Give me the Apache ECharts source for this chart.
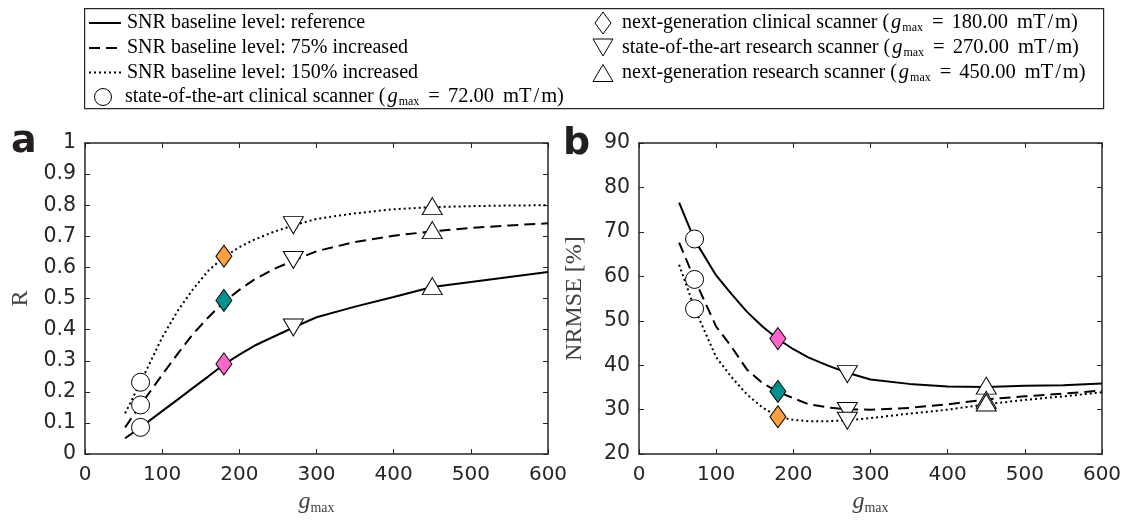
<!DOCTYPE html>
<html>
<head>
<meta charset="utf-8">
<script src="https://cdn.jsdelivr.net/npm/echarts@6/dist/echarts.min.js"></script>
<style>html,body{margin:0;padding:0;background:#fff}#c{width:1125px;height:520px}</style>
</head>
<body>
<div id="c"></div>
<script>
// ---- data ----
const gGrid = [52, 72, 100, 120, 140, 160, 180, 200, 220, 245, 270, 300, 350, 400, 450, 500, 550, 600];
// Panel a: correlation R
const rRef    = [0.051, 0.086, 0.138, 0.175, 0.213, 0.250, 0.288, 0.320, 0.349, 0.378, 0.407, 0.440, 0.474, 0.505, 0.537, 0.553, 0.569, 0.585];
const rInc75  = [0.086, 0.158, 0.255, 0.322, 0.386, 0.440, 0.489, 0.528, 0.562, 0.595, 0.622, 0.652, 0.682, 0.702, 0.716, 0.727, 0.735, 0.742];
const rInc150 = [0.131, 0.231, 0.375, 0.460, 0.530, 0.590, 0.633, 0.665, 0.690, 0.715, 0.735, 0.756, 0.774, 0.787, 0.794, 0.797, 0.799, 0.800];
// Panel b: NRMSE [%]
const eRef    = [76.6, 68.2, 60.2, 56.0, 52.0, 48.7, 45.9, 43.6, 41.7, 39.9, 38.3, 36.8, 35.8, 35.2, 35.1, 35.4, 35.5, 35.9];
const eInc75  = [67.6, 59.3, 48.7, 44.1, 39.0, 36.0, 34.0, 32.6, 31.2, 30.5, 30.1, 30.0, 30.4, 31.2, 32.3, 33.0, 33.6, 34.3];
const eInc150 = [62.6, 52.8, 41.8, 37.3, 33.4, 30.5, 28.4, 27.7, 27.4, 27.4, 27.6, 28.1, 29.1, 30.0, 31.2, 32.2, 33.0, 33.9];
// Scanners (g_max in mT/m)
const scannerG = [72, 180, 270, 450];
const scannerNames = [
  'state-of-the-art clinical scanner',
  'next-generation clinical scanner',
  'state-of-the-art research scanner',
  'next-generation research scanner'
];
const levelNames = ['SNR baseline level: reference', 'SNR baseline level: 75% increased', 'SNR baseline level: 150% increased'];
// marker values per scanner, ordered [reference, 75%, 150%]
const rCircle   = [0.086, 0.158, 0.231];
const rDiamond  = [0.290, 0.494, 0.636];
const rTriDown  = [0.407, 0.624, 0.736];
const rTriUp    = [0.540, 0.720, 0.797];
const eCircle   = [68.4, 59.3, 52.7];
const eDiamond  = [46.0, 34.1, 28.4];
const eTriDown  = [38.0, 29.7, 27.5];
const eTriUp    = [35.4, 32.2, 31.6];
const xTicks = [0, 100, 200, 300, 400, 500, 600];

// ---- styles ----
const diamondColors = ['#ff66cc', '#009090', '#ffa040'];
const dashTypes = ['solid', [11, 6], [2, 3]];
const AX = '#262626';
const SERIF = '"Liberation Serif", "Times New Roman", serif';
const SANS = '"DejaVu Sans", sans-serif';
const triDownPath = 'path://M0,0 L20,0 L10,17 Z';
const triUpPath = 'path://M10,0 L20,17 L0,17 Z';

const chart = echarts.init(document.getElementById('c'), null, {renderer: 'canvas'});

const grids = [
  {left: 85, top: 143, width: 463, height: 314},
  {left: 639, top: 143, width: 463, height: 314}
];

function xAx(gi, pos) {
  const main = pos === 'bottom';
  return {
    type: 'value', gridIndex: gi, position: pos, min: 0, max: 600, interval: 100,
    axisLine: {show: true, onZero: false, lineStyle: {color: AX, width: 1.5}},
    axisTick: {show: true, inside: true, length: 5, lineStyle: {color: AX, width: 1}},
    axisLabel: {show: main, color: AX, fontFamily: SANS, fontSize: 20, margin: 11,
      formatter: v => xTicks.includes(v) ? String(v) : ''},
    splitLine: {show: false},
    name: main ? '{g|g}{s|max}' : '', nameLocation: 'middle', nameGap: 34,
    nameTextStyle: {rich: {
      g: {fontFamily: SERIF, fontStyle: 'italic', fontSize: 24, color: '#404040', lineHeight: 26},
      s: {fontFamily: SERIF, fontSize: 14, color: '#404040', verticalAlign: 'bottom', lineHeight: 14, padding: [10, 0, 0, 0]}
    }}
  };
}
function yAx(gi, pos, min, max, interval, name, fmt) {
  const main = pos === 'left';
  return {
    type: 'value', gridIndex: gi, position: pos, min: min, max: max, interval: interval,
    axisLine: {show: true, onZero: false, lineStyle: {color: AX, width: 1.5}},
    axisTick: {show: true, inside: true, length: 5, lineStyle: {color: AX, width: 1}},
    axisLabel: {show: main, color: AX, fontFamily: SANS, fontSize: 20.5, margin: 9, formatter: fmt},
    splitLine: {show: false},
    name: main ? name : '', nameLocation: 'middle', nameGap: 52, nameRotate: 90,
    nameTextStyle: {fontFamily: SERIF, fontSize: 24, color: '#404040'}
  };
}
const fmtR = v => (Math.round(v * 10) / 10).toString();
const fmtE = v => String(Math.round(v));

function toPts(arr) { return gGrid.map((x, i) => [x, arr[i]]); }

const series = [];
[[rRef, rInc75, rInc150, 0], [eRef, eInc75, eInc150, 1]].forEach(([a, b, c, p]) => {
  [a, b, c].forEach((arr, k) => {
    series.push({
      type: 'line', name: levelNames[k], xAxisIndex: p, yAxisIndex: p,
      data: toPts(arr), symbol: 'none', smooth: false, z: 2,
      lineStyle: {color: '#000', width: 2, type: dashTypes[k]}
    });
  });
});
function markerSeries(p, vals, gi, symbol, size, colorFn) {
  return {
    type: 'scatter', name: scannerNames[gi], xAxisIndex: p, yAxisIndex: p, z: 5,
    symbol: symbol, symbolSize: size,
    data: vals.map((v, k) => ({value: [scannerG[gi], v], itemStyle: {color: colorFn(k), opacity: 1}})),
    itemStyle: {borderColor: '#000', borderWidth: 1, opacity: 1}
  };
}
const white = () => '#ffffff';
const dcol = k => diamondColors[k];
[[rCircle, rDiamond, rTriDown, rTriUp, 0], [eCircle, eDiamond, eTriDown, eTriUp, 1]].forEach(([c, d, td, tu, p]) => {
  series.push(markerSeries(p, c, 0, 'circle', 18, white));
  series.push(markerSeries(p, d, 1, 'diamond', [16, 22], dcol));
  series.push(markerSeries(p, td, 2, triDownPath, [20, 17], white));
  series.push(markerSeries(p, tu, 3, triUpPath, [20, 17], white));
});

// ---- legend drawn as graphics ----
const richG = {
  t: {fontFamily: SERIF, fontSize: 20, color: '#000', lineHeight: 22},
  p: {fontFamily: SERIF, fontSize: 20, color: '#000', lineHeight: 22, padding: [0, 2, 0, 0]},
  m: {fontFamily: SERIF, fontSize: 20.5, color: '#000', lineHeight: 22},
  e: {fontFamily: SERIF, fontSize: 20.5, color: '#000', lineHeight: 22, padding: [0, 8, 0, 8]},
  sl: {fontFamily: SERIF, fontSize: 20.5, color: '#000', lineHeight: 22, padding: [0, 2, 0, 2]},
  u: {fontFamily: SERIF, fontSize: 20.5, color: '#000', lineHeight: 22, padding: [0, 0, 0, 9]},
  g: {fontFamily: SERIF, fontSize: 20.5, fontStyle: 'italic', color: '#000', lineHeight: 22},
  s: {fontFamily: SERIF, fontSize: 12, color: '#000', verticalAlign: 'bottom', lineHeight: 12, padding: [9, 1, 0, 1]}
};
function scannerText(i) {
  return '{t|' + scannerNames[i] + ' }{p|(}{g|g}{s|max}{e|=}{m|' + scannerG[i].toFixed(2) +
    '}{u|mT}{sl|/}{m|m)}';
}
const rowsY = [23, 48, 72.5, 97];
const graphic = [
  {type: 'rect', left: 84, top: 8, shape: {x: 0, y: 0, width: 1019, height: 100}, style: {fill: '#fff', stroke: AX, lineWidth: 1.2}, z: 0}
];
[0, 1, 2].forEach(k => {
  graphic.push({type: 'line', shape: {x1: 89, y1: rowsY[k], x2: 121, y2: rowsY[k]},
    style: {stroke: '#000', lineWidth: 2, lineDash: k === 0 ? null : dashTypes[k]}, z: 1});
  graphic.push({type: 'text', x: 127, y: rowsY[k], style: {text: levelNames[k], font: '20px ' + SERIF, fill: '#000', verticalAlign: 'middle'}, z: 1});
});
graphic.push({type: 'circle', shape: {cx: 103, cy: rowsY[3], r: 8.5}, style: {fill: '#fff', stroke: '#000', lineWidth: 1}, z: 1});
graphic.push({type: 'text', x: 125, y: rowsY[3], style: {text: scannerText(0), rich: richG, verticalAlign: 'middle'}, z: 1});
graphic.push({type: 'polygon', shape: {points: [[603, rowsY[0] - 11], [611, rowsY[0]], [603, rowsY[0] + 11], [595, rowsY[0]]]}, style: {fill: '#fff', stroke: '#000', lineWidth: 1}, z: 1});
graphic.push({type: 'polygon', shape: {points: [[593, rowsY[1] - 9], [613, rowsY[1] - 9], [603, rowsY[1] + 8]]}, style: {fill: '#fff', stroke: '#000', lineWidth: 1}, z: 1});
graphic.push({type: 'polygon', shape: {points: [[603, rowsY[2] - 8], [613, rowsY[2] + 9], [593, rowsY[2] + 9]]}, style: {fill: '#fff', stroke: '#000', lineWidth: 1}, z: 1});
[1, 2, 3].forEach((i, r) => {
  graphic.push({type: 'text', x: 622, y: rowsY[r], style: {text: scannerText(i), rich: richG, verticalAlign: 'middle'}, z: 1});
});
graphic.push({type: 'text', x: 11, y: 142, style: {text: 'a', font: 'bold 38px ' + SANS, fill: '#231f20', verticalAlign: 'middle'}, z: 1});
graphic.push({type: 'text', x: 563, y: 144, style: {text: 'b', font: 'bold 38px ' + SANS, fill: '#231f20', verticalAlign: 'middle'}, z: 1});

chart.setOption({
  animation: false,
  backgroundColor: '#fff',
  grid: grids,
  xAxis: [xAx(0, 'bottom'), xAx(1, 'bottom'), xAx(0, 'top'), xAx(1, 'top')],
  yAxis: [yAx(0, 'left', 0, 1, 0.1, 'R', fmtR), yAx(1, 'left', 20, 90, 10, 'NRMSE [%]', fmtE),
          yAx(0, 'right', 0, 1, 0.1, '', fmtR), yAx(1, 'right', 20, 90, 10, '', fmtE)],
  series: series,
  graphic: graphic
});
</script>
</body>
</html>
